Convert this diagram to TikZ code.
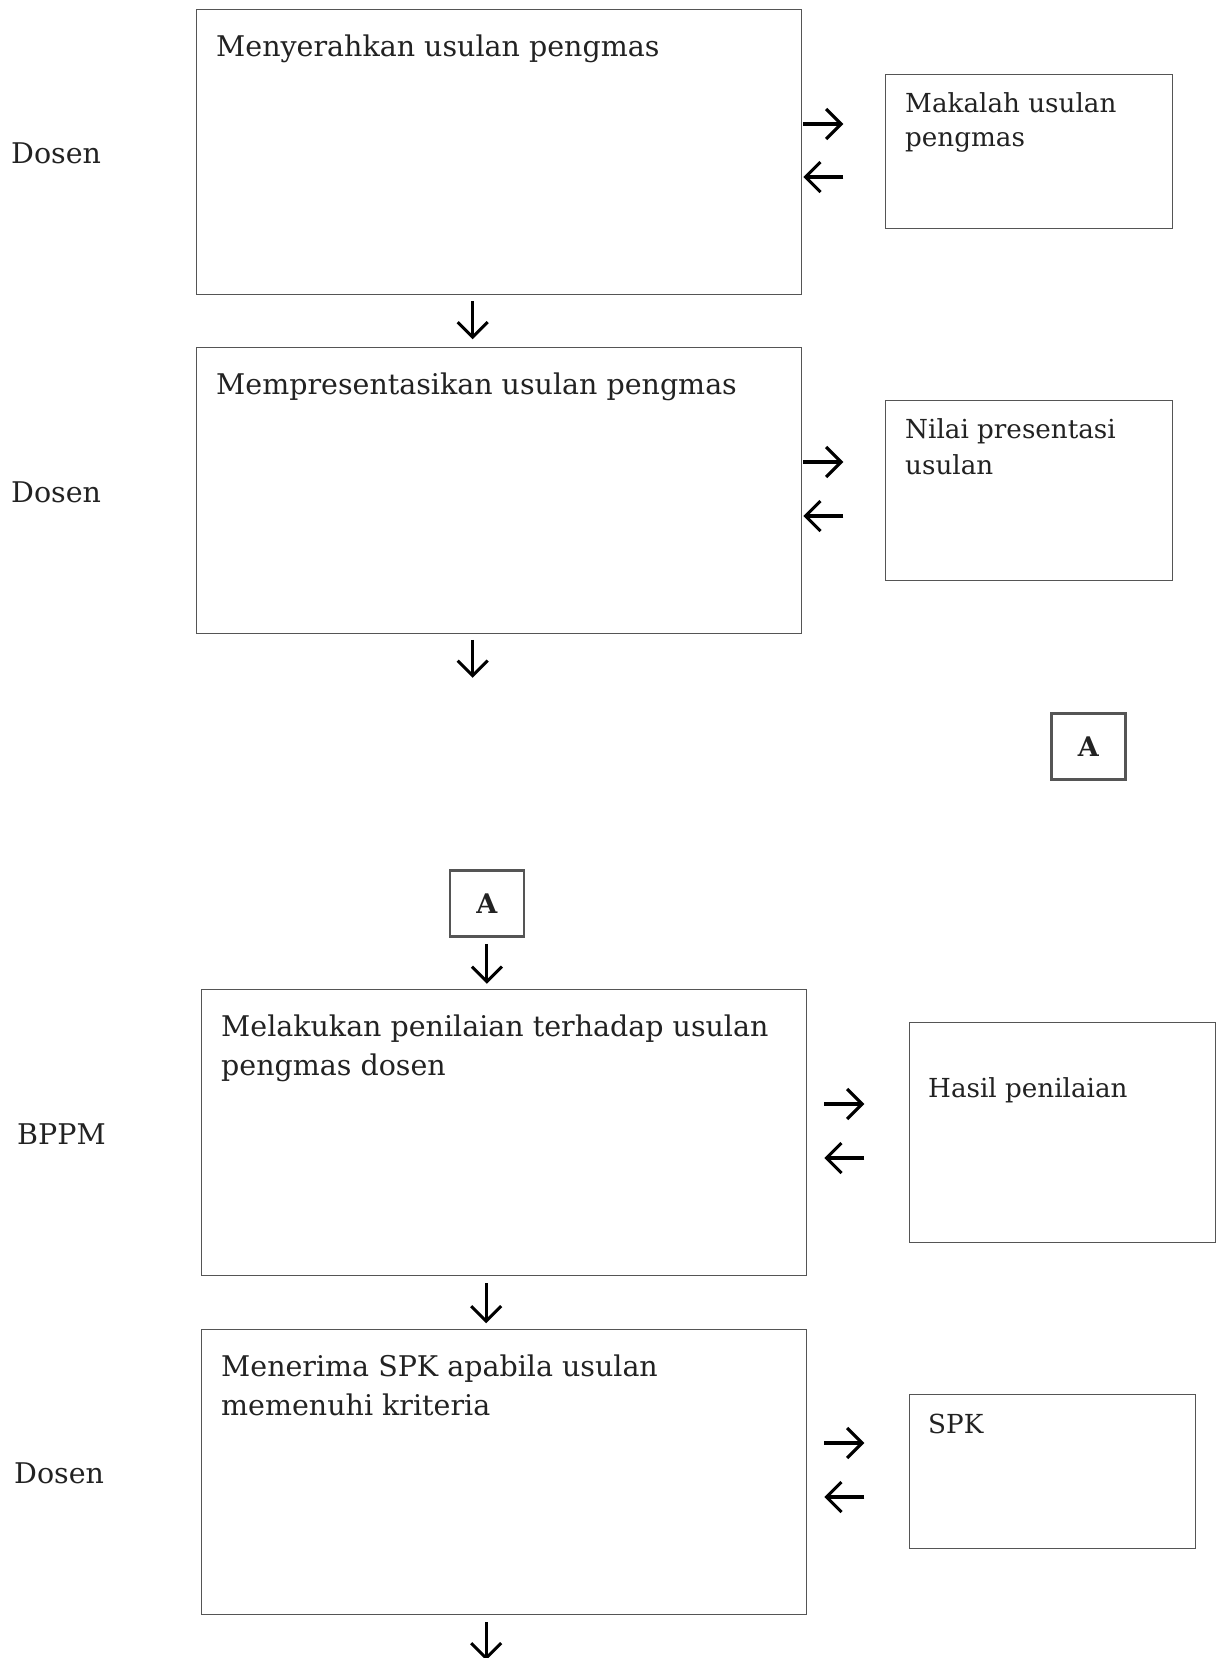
\documentclass[tikz,border=0pt]{standalone}
\usepackage{fontspec}
\setmainfont{DejaVu Serif}
\usetikzlibrary{arrows.meta,calc}
\definecolor{txt}{HTML}{222222}
\definecolor{brd}{HTML}{555555}
\begin{document}
\begin{tikzpicture}[x=1pt,y=-1pt,
  box/.style={draw=brd,line width=1.3pt,fill=none,inner sep=0pt,anchor=north west,rectangle},
  abox/.style={draw=brd,line width=2.8pt,inner sep=0pt,anchor=north west,minimum width=74pt,minimum height=66pt,font=\fontsize{27}{30}\selectfont\bfseries,text=txt},
  big/.style={anchor=base west,inner sep=0pt,text=txt,font=\fontsize{28.5}{34}\selectfont},
  small/.style={anchor=base west,inner sep=0pt,text=txt,font=\fontsize{26.2}{30}\selectfont},
  arr/.style={line width=3.1pt,-{Straight Barb[length=15pt,width=30pt]}}]
\useasboundingbox (0,0) rectangle (1229,1658);
% actor labels
\node[big] (l1) at (11,163) {Dosen};
\node[big] (l2) at (11,502) {Dosen};
\node[big] (l3) at (17,1144) {BPPM};
\node[big] (l4) at (14,1483) {Dosen};
% main boxes
\node[box,minimum width=605pt,minimum height=285.5pt] (b1) at (196,8.5) {};
\node[box,minimum width=605pt,minimum height=285.5pt] (b2) at (196,347) {};
\node[box,minimum width=605pt,minimum height=285.5pt] (b3) at (201,989) {};
\node[box,minimum width=605pt,minimum height=285.5pt] (b4) at (201,1328.5) {};
\node[big] (t1) at (216,56) {Menyerahkan usulan pengmas};
\node[big] (t2) at (216,394.5) {Mempresentasikan usulan pengmas};
\node[big] (t3a) at (221,1036.5) {Melakukan penilaian terhadap usulan};
\node[big] (t3b) at (221,1075.5) {pengmas dosen};
\node[big] (t4a) at (221,1376) {Menerima SPK apabila usulan};
\node[big] (t4b) at (221,1415) {memenuhi kriteria};
% document boxes
\node[box,minimum width=287pt,minimum height=153.5pt] (r1) at (885,74) {};
\node[box,minimum width=287pt,minimum height=180pt] (r2) at (885,400) {};
\node[box,minimum width=306.5pt,minimum height=220pt] (r3) at (908.5,1022) {};
\node[box,minimum width=286.5pt,minimum height=153.5pt] (r4) at (908.5,1394) {};
\node[small] (s1a) at (905,112) {Makalah usulan};
\node[small] (s1b) at (905,146) {pengmas};
\node[small] (s2a) at (905,438) {Nilai presentasi};
\node[small] (s2b) at (905,474) {usulan};
\node[small] (s3) at (928,1097) {Hasil penilaian};
\node[small] (s4) at (928,1433) {SPK};
% connectors A
\node[abox] (a1) at (1050,712) {A};
\node[abox] (a2) at (448.5,869) {A};
% side arrows
\draw[arr] ($(b1.north east)+(1,115.5)$) -- ++(40,0);
\draw[arr] ($(b1.north east)+(41,168.5)$) -- ++(-40,0);
\draw[arr] ($(b2.north east)+(1,115)$) -- ++(40,0);
\draw[arr] ($(b2.north east)+(41,169)$) -- ++(-40,0);
\draw[arr] ($(b3.north east)+(17,115)$) -- ++(40,0);
\draw[arr] ($(b3.north east)+(57,169)$) -- ++(-40,0);
\draw[arr] ($(b4.north east)+(17,114.5)$) -- ++(40,0);
\draw[arr] ($(b4.north east)+(57,168.5)$) -- ++(-40,0);
% down arrows
\draw[arr] ($(b1.south)+(-26.5,6)$) -- ++(0,38);
\draw[arr] ($(b2.south)+(-26.5,6)$) -- ++(0,38);
\draw[arr] ($(a2.south)+(0,6)$) -- ++(0,40);
\draw[arr] ($(b3.south)+(-18,7.5)$) -- ++(0,40);
\draw[arr] ($(b4.south)+(-18,7)$) -- ++(0,38);
\end{tikzpicture}
\end{document}
